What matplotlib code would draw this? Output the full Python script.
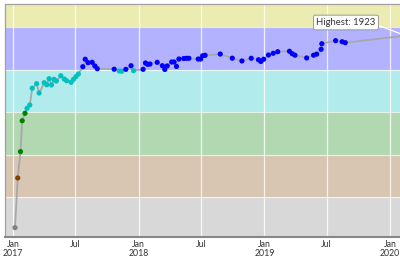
import matplotlib
matplotlib.use("Agg")
import matplotlib.pyplot as plt
import matplotlib.dates as mdates
import pandas as pd

# contest dates and ratings
dates = [
    "2017-01-07", "2017-01-15", "2017-01-23", "2017-01-28", "2017-02-05", "2017-02-11",
    "2017-02-19", "2017-02-26", "2017-03-11", "2017-03-18", "2017-04-02", "2017-04-09",
    "2017-04-16", "2017-04-23", "2017-04-30", "2017-05-07", "2017-05-20", "2017-05-30",
    "2017-06-06", "2017-06-19", "2017-06-26", "2017-07-03", "2017-07-10", "2017-07-23",
    "2017-07-30", "2017-08-07", "2017-08-19", "2017-08-27", "2017-09-03", "2017-10-22",
    "2017-11-06", "2017-11-13", "2017-11-25", "2017-12-10", "2017-12-17", "2018-01-14",
    "2018-01-21", "2018-01-27", "2018-02-03", "2018-02-24", "2018-03-11", "2018-03-18",
    "2018-03-25", "2018-04-07", "2018-04-14", "2018-04-21", "2018-04-28", "2018-05-12",
    "2018-05-20", "2018-05-27", "2018-06-23", "2018-06-30", "2018-07-06", "2018-07-13",
    "2018-08-26", "2018-09-30", "2018-10-28", "2018-11-24", "2018-12-15", "2018-12-22",
    "2018-12-30", "2019-01-13", "2019-01-27", "2019-02-09", "2019-03-15", "2019-03-23",
    "2019-03-31", "2019-05-04", "2019-05-24", "2019-06-02", "2019-06-15", "2019-06-17",
    "2019-07-27", "2019-08-15", "2019-08-24", "2020-02-15",
]
ratings = [
    115, 583, 831, 1122, 1192, 1239,
    1270, 1428, 1471, 1383, 1480, 1461,
    1518, 1459, 1512, 1496, 1546, 1515,
    1499, 1484, 1512, 1537, 1562, 1631,
    1701, 1669, 1672, 1638, 1612, 1607,
    1590, 1588, 1606, 1640, 1593, 1606,
    1666, 1653, 1656, 1672, 1640, 1605,
    1638, 1675, 1675, 1633, 1703, 1708,
    1710, 1710, 1703, 1703, 1734, 1738,
    1750, 1711, 1685, 1710, 1696, 1680,
    1701, 1741, 1757, 1772, 1776, 1753,
    1739, 1713, 1739, 1749, 1795, 1847,
    1876, 1866, 1857, 1923,
]

band_edges = [0, 400, 800, 1200, 1600, 2000, 2400]
band_colors = ["#808080", "#804000", "#008000", "#00C0C0", "#0000FF", "#C0C000"]

tick_dates = ["2017-01-01", "2017-07-01", "2018-01-01", "2018-07-01",
              "2019-01-01", "2019-07-01", "2020-01-01"]
tick_labels = ["Jan\n2017", "Jul", "Jan\n2018", "Jul", "Jan\n2019", "Jul", "Jan\n2020"]

x = mdates.date2num(pd.to_datetime(dates))
ticks = mdates.date2num(pd.to_datetime(tick_dates))


def rating_color(r):
    for lo, hi, c in zip(band_edges[:-1], band_edges[1:], band_colors):
        if lo <= r < hi:
            return c
    return band_colors[-1]


plt.rcParams['font.family'] = ['Lato', 'DejaVu Sans']

fig = plt.figure(figsize=(4, 2.6), dpi=100)
# the original is cropped on the right, so the axes stop at the image edge
ax = fig.add_axes([5 / 400, 1 - 237 / 260, 395 / 400, (237 - 3.5) / 260])

for lo, hi, c in zip(band_edges[:-1], band_edges[1:], band_colors):
    ax.axhspan(lo, hi, color=c, alpha=0.3, lw=0, zorder=0)
for e in band_edges[1:-1]:
    ax.axhline(e, color="white", lw=0.8, alpha=0.7, zorder=1)
for t in ticks:
    ax.axvline(t, color="white", lw=0.9, alpha=0.8, zorder=1)

ax.plot(x, ratings, color="#a8a8a8", lw=1.3, zorder=2)
ax.scatter(x, ratings, s=14, c=[rating_color(r) for r in ratings],
           linewidths=0, zorder=3)

hi_idx = ratings.index(max(ratings))
ax.annotate(f"Highest: {max(ratings)}", xy=(x[hi_idx], ratings[hi_idx]),
            xytext=(346 / 400, 1 - 22.5 / 260), textcoords="figure fraction",
            ha="center", va="center", fontsize=6.8, color="#333333",
            bbox=dict(boxstyle="round,pad=0.3,rounding_size=0.2", fc="white",
                      ec="#999999", lw=0.7),
            arrowprops=dict(arrowstyle="-", color="white", lw=0.9,
                            relpos=(1, 0.3), shrinkA=0, shrinkB=0),
            annotation_clip=False, zorder=5)

ax.set_xlim(mdates.date2num(pd.Timestamp("2016-12-09")),
            mdates.date2num(pd.Timestamp("2020-01-30")))
ax.set_ylim(27, 2226)
ax.set_xticks(ticks)
ax.set_xticklabels(tick_labels, fontsize=6.3, color="#333333", linespacing=1.0)
ax.tick_params(axis="x", length=0, pad=2)
ax.set_yticks([])

for s in ["left", "top"]:
    ax.spines[s].set_color("#a0a0a0")
    ax.spines[s].set_linewidth(0.9)
ax.spines["bottom"].set_color("#888888")
ax.spines["bottom"].set_linewidth(1.5)
ax.spines["right"].set_visible(False)

fig.savefig("out.png", dpi=100)
